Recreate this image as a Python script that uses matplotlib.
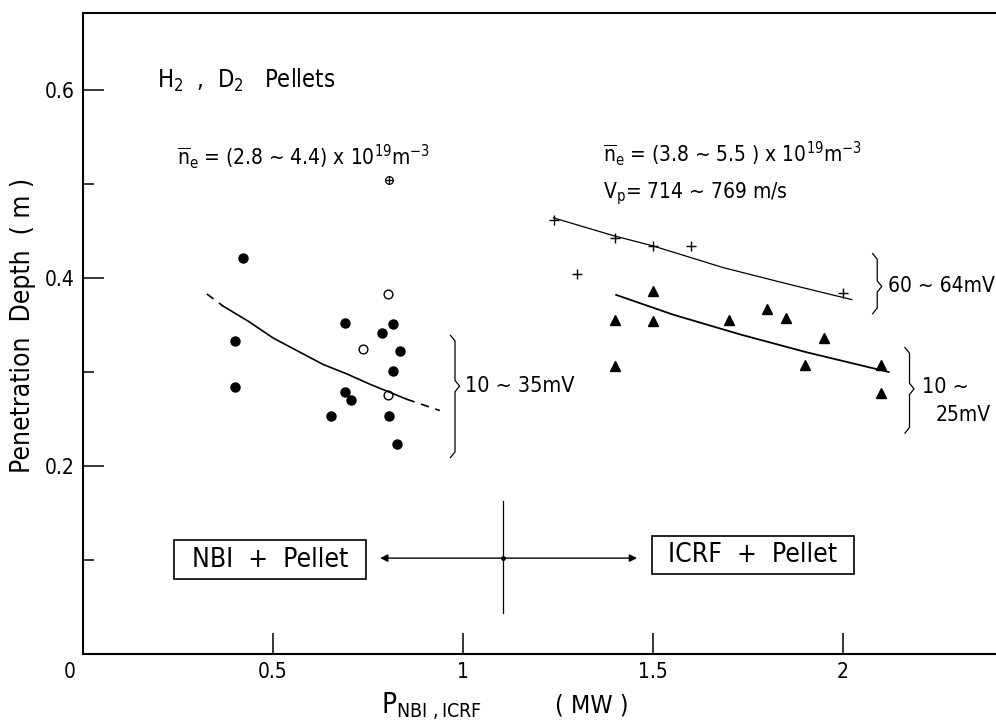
import matplotlib
matplotlib.use("Agg")
import matplotlib.pyplot as plt
from matplotlib.patches import Rectangle

# NBI + pellet shots (filled: D2, open: H2, circled plus: single shot)
nbi_x = [0.42, 0.40, 0.40, 0.69, 0.816, 0.788, 0.834, 0.817, 0.689, 0.704, 0.653, 0.805, 0.825]
nbi_y = [0.421, 0.333, 0.284, 0.352, 0.351, 0.341, 0.322, 0.301, 0.279, 0.270, 0.253, 0.253, 0.223]
nbi_open_x = [0.802, 0.736, 0.802]
nbi_open_y = [0.383, 0.324, 0.275]
nbi_oplus_x = [0.804]
nbi_oplus_y = [0.504]

# ICRF + pellet shots
icrf_hi_x = [1.24, 1.40, 1.50, 1.60, 1.30, 2.00]          # 60 ~ 64 mV
icrf_hi_y = [0.462, 0.443, 0.434, 0.434, 0.404, 0.384]
icrf_lo_x = [1.50, 1.40, 1.50, 1.70, 1.80, 1.85, 1.95, 1.40, 1.90, 2.10, 2.10]   # 10 ~ 25 mV
icrf_lo_y = [0.386, 0.355, 0.354, 0.355, 0.367, 0.357, 0.336, 0.306, 0.307, 0.307, 0.278]

# hand-drawn trend curves
nbi_fit_x = [0.326, 0.369, 0.435, 0.501, 0.632, 0.694, 0.755, 0.852, 0.939]
nbi_fit_y = [0.383, 0.370, 0.354, 0.336, 0.308, 0.298, 0.287, 0.271, 0.259]
icrf_hi_fit_x = [1.238, 1.396, 1.501, 1.685, 1.861, 2.023]
icrf_hi_fit_y = [0.464, 0.445, 0.434, 0.411, 0.393, 0.377]
icrf_lo_fit_x = [1.403, 1.553, 1.729, 1.904, 2.12]
icrf_lo_fit_y = [0.382, 0.361, 0.340, 0.321, 0.300]

plt.rcParams['font.family'] = 'DejaVu Sans'
plt.rcParams['font.stretch'] = 'condensed'
plt.rcParams['mathtext.fontset'] = 'custom'
plt.rcParams['mathtext.rm'] = 'DejaVu Sans:stretch=condensed'
plt.rcParams['mathtext.it'] = 'DejaVu Sans:stretch=condensed'
plt.rcParams['mathtext.bf'] = 'DejaVu Sans:stretch=condensed'

fig = plt.figure(figsize=(9.96, 7.26), dpi=100)
ax = fig.add_axes([83 / 996, 72 / 726, 913 / 996, 641 / 726])
ax.set_xlim(0, 2.4026)
ax.set_ylim(0, 0.6819)

for s in ['left', 'bottom', 'top']:
    ax.spines[s].set_linewidth(1.5)
ax.spines['right'].set_visible(False)

ax.set_xticks([0.5, 1, 1.5, 2])
ax.set_xticklabels(['0.5', '1', '1.5', '2'])
ax.set_yticks([0.2, 0.4, 0.6])
ax.set_yticklabels(['0.2', '0.4', '0.6'])
ax.set_yticks([0.1, 0.3, 0.5], minor=True)
ax.tick_params(which='major', direction='in', length=15, width=1.1, labelsize=15,
               top=False, right=False)
ax.tick_params(axis='x', pad=6)
ax.tick_params(axis='y', pad=6)
ax.tick_params(which='minor', direction='in', length=8, width=1.1, right=False)
ax.text(-0.035, -0.0195, '0', fontsize=15, ha='center', va='center')

# NBI points and curve (dashed where extrapolated)
ax.plot(nbi_x, nbi_y, 'o', color='black', ms=6.5)
ax.plot(nbi_open_x, nbi_open_y, 'o', mfc='white', mec='black', ms=6.3, mew=1.0)
ax.plot(nbi_oplus_x, nbi_oplus_y, 'o', mfc='white', mec='black', ms=5.5, mew=0.9)
ax.plot(nbi_oplus_x, nbi_oplus_y, '+', color='black', ms=5.5, mew=0.9)
ax.plot(nbi_fit_x[:2], nbi_fit_y[:2], color='black', lw=1.2, ls=(0, (5, 4)))
ax.plot(nbi_fit_x[1:-1], nbi_fit_y[1:-1], color='black', lw=1.2)
ax.plot(nbi_fit_x[-2:], nbi_fit_y[-2:], color='black', lw=1.2, ls=(0, (5, 4)))

# ICRF points and curves
ax.plot(icrf_hi_x, icrf_hi_y, '+', color='black', ms=7, mew=1.0)
ax.plot(icrf_lo_x, icrf_lo_y, '^', color='black', ms=7.5)
ax.plot(icrf_hi_fit_x, icrf_hi_fit_y, color='black', lw=0.9)
ax.plot(icrf_lo_fit_x, icrf_lo_fit_y, color='black', lw=1.3)


def brace(x, y0, y1, ym, w=0.012, h=0.006):
    ax.plot([x - w, x, x, x + w, x, x, x - w],
            [y1, y1 - h, ym + h, ym, ym - h, y0 + h, y0],
            color='black', lw=0.9)


brace(0.979, 0.209, 0.339, 0.285)
brace(2.09, 0.362, 0.426, 0.391)
brace(2.175, 0.235, 0.326, 0.282)
ax.text(1.005, 0.285, '10 ~ 35mV', fontsize=15.5, va='center')
ax.text(2.118, 0.391, '60 ~ 64mV', fontsize=15, va='center')
ax.text(2.208, 0.284, '10 ~', fontsize=15.5, va='center')
ax.text(2.245, 0.254, '25mV', fontsize=15, va='center')

# condition notes
ax.text(0.195, 0.602, r'H$_2$  ,  D$_2$   Pellets', fontsize=17, va='baseline')
ax.text(0.247, 0.521, r'$\overline{\mathrm{n}}_{\mathrm{e}}$ = (2.8 ~ 4.4) x 10$^{19}$m$^{-3}$',
        fontsize=15, va='baseline')
ax.text(1.368, 0.524, r'$\overline{\mathrm{n}}_{\mathrm{e}}$ = (3.8 ~ 5.5 ) x 10$^{19}$m$^{-3}$',
        fontsize=15, va='baseline')
ax.text(1.368, 0.485, r'V$_{\mathrm{p}}$= 714 ~ 769 m/s', fontsize=15, va='baseline')

# heating-scheme boxes with the divider arrows
ax.add_patch(Rectangle((0.239, 0.080), 0.506, 0.041, fill=False, lw=1.2, ec='black'))
ax.text(0.492, 0.1005, 'NBI  +  Pellet', fontsize=19, ha='center', va='center')
ax.add_patch(Rectangle((1.497, 0.085), 0.532, 0.0405, fill=False, lw=1.2, ec='black'))
ax.text(1.763, 0.1055, 'ICRF  +  Pellet', fontsize=19, ha='center', va='center')
ax.plot([1.104, 1.104], [0.044, 0.163], color='black', lw=0.9)
ax.plot([1.104], [0.102], '.', color='black', ms=5)
for x_end in [0.782, 1.458]:
    ax.annotate('', xy=(x_end, 0.102), xytext=(1.104, 0.102),
                arrowprops=dict(arrowstyle='-|>', lw=1.0, color='black',
                                mutation_scale=11, shrinkA=0, shrinkB=0))

# axis titles
ax.text(-0.066, 0.512, 'Penetration  Depth  ( m )', transform=ax.transAxes,
        rotation=90, fontsize=19, ha='center', va='center')
ax.text(0.783, -0.055, r'P$_{\mathrm{NBI\ ,ICRF}}$', fontsize=20, va='center')
ax.text(1.242, -0.055, '( MW )', fontsize=18, va='center')

fig.savefig('out.png', dpi=100)
